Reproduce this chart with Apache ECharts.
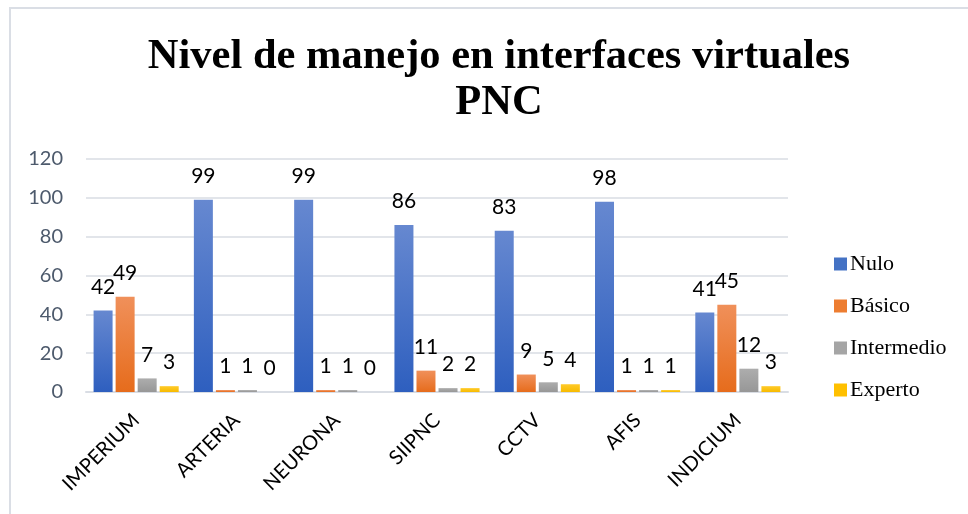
<!DOCTYPE html>
<html><head><meta charset="utf-8">
<script src="https://cdn.jsdelivr.net/npm/echarts@6/dist/echarts.min.js"></script>
<style>html,body{margin:0;padding:0;background:#fff}#c{width:968px;height:514px}</style>
</head><body><div id="c"></div>
<script>
const categories = ['IMPERIUM','ARTERIA','NEURONA','SIIPNC','CCTV','AFIS','INDICIUM'];
const nulo = [42,99,99,86,83,98,41];
const basico = [49,1,1,11,9,1,45];
const intermedio = [7,1,1,2,5,1,12];
const experto = [3,0,0,2,4,1,3];
const yTicks = {min:0,max:120,interval:20};
const seriesNames = ['Nulo','Básico','Intermedio','Experto'];

function grad(top, bottom){
  return new echarts.graphic.LinearGradient(0,0,0,1,[{offset:0,color:top},{offset:1,color:bottom}]);
}
const colors = [grad('#6688d0','#2e5fbf'), grad('#f0905a','#e66c1c'), grad('#adadad','#979797'), grad('#ffca2a','#f7bb00')];
const legendColors = ['#4472c4','#ed7d31','#a5a5a5','#ffc000'];
const datas = [nulo, basico, intermedio, experto];

const chart = echarts.init(document.getElementById('c'));
chart.setOption({
  animation:false,
  backgroundColor:'#fff',
  title:{text:'Nivel de manejo en interfaces virtuales\nPNC',left:494,textAlign:'center',top:29,
    textStyle:{fontFamily:'Liberation Serif',fontWeight:'bold',fontSize:42.5,lineHeight:46,color:'#000'}},
  graphic:[{type:'rect',shape:{x:10,y:8,width:1000,height:560},style:{fill:'none',stroke:'#dadee5',lineWidth:2},silent:true}],
  legend:{orient:'vertical',left:829,top:248,itemGap:20,itemWidth:13,itemHeight:13,icon:'rect',
    data:seriesNames.map((n,i)=>({name:n,itemStyle:{color:legendColors[i]}})),
    textStyle:{fontFamily:'Liberation Serif',fontSize:22,color:'#000',padding:[0,0,0,-2]}},
  grid:{left:86,right:180,top:159,bottom:122,containLabel:false},
  xAxis:{type:'category',data:categories,
    axisLine:{lineStyle:{color:'#d9dde4',width:2}},axisTick:{show:false},
    axisLabel:{rotate:45,interval:0,fontFamily:'Lato',fontSize:20,color:'#000',margin:25}},
  yAxis:{type:'value',min:yTicks.min,max:yTicks.max,interval:yTicks.interval,
    axisLine:{show:false},axisTick:{show:false},
    splitLine:{lineStyle:{color:'#e2e5ea',width:2}},
    axisLabel:{fontFamily:'Lato',fontSize:20,color:'#4d5a6c',margin:23}},
  series:datas.map((d,i)=>({name:seriesNames[i],type:'bar',data:d,barWidth:19,barGap:'16%',
    itemStyle:{color:colors[i]},
    label:{show:true,position:'top',distance:13,fontFamily:'Lato',fontSize:21,color:'#000'}}))
});
</script></body></html>
